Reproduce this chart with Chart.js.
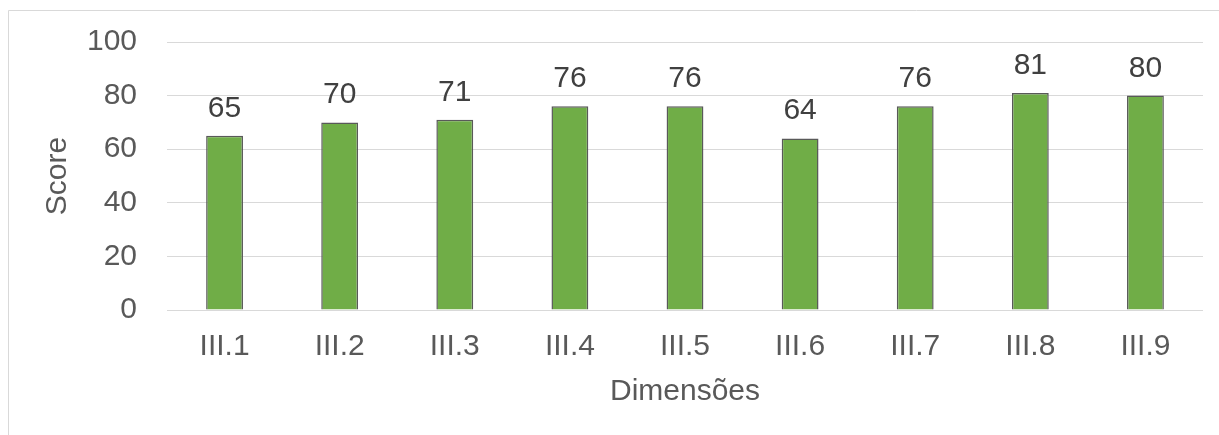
<!DOCTYPE html>
<html>
<head>
<meta charset="utf-8">
<script src="https://cdn.jsdelivr.net/npm/chart.js@4"></script>
<style>
html,body{margin:0;padding:0;background:#fff;}
#wrap{position:relative;width:1219px;height:435px;}
</style>
</head>
<body>
<div id="wrap"><canvas id="c" width="1219" height="435"></canvas></div>
<script>
const categories = ["III.1","III.2","III.3","III.4","III.5","III.6","III.7","III.8","III.9"];
const scores = [65,70,71,76,76,64,76,81,80];
const yTicks = [0,20,40,60,80,100];
const xTitle = "Dimensões";
const yTitle = "Score";

const FONT = "'Liberation Sans', Arial, sans-serif";

const frame = {
  id: 'frame',
  beforeDraw(chart) {
    const ctx = chart.ctx;
    ctx.save();
    ctx.fillStyle = '#ffffff';
    ctx.fillRect(0, 0, chart.width, chart.height);
    ctx.strokeStyle = '#d9d9d9';
    ctx.lineWidth = 1;
    ctx.beginPath();
    ctx.moveTo(8.5, chart.height);
    ctx.lineTo(8.5, 10.5);
    ctx.lineTo(chart.width, 10.5);
    ctx.stroke();
    ctx.restore();
  }
};

const dataLabels = {
  id: 'dataLabels',
  afterDatasetsDraw(chart) {
    const ctx = chart.ctx;
    ctx.save();
    ctx.fillStyle = '#404040';
    ctx.font = '30px ' + FONT;
    ctx.textAlign = 'center';
    ctx.textBaseline = 'alphabetic';
    const meta = chart.getDatasetMeta(0);
    meta.data.forEach((bar, i) => {
      ctx.fillText(String(chart.data.datasets[0].data[i]), bar.x, bar.y - 19);
    });
    ctx.restore();
  }
};

new Chart(document.getElementById('c'), {
  type: 'bar',
  data: {
    labels: categories,
    datasets: [{
      data: scores,
      backgroundColor: '#70AD47',
      borderColor: '#595959',
      borderWidth: 1.5,
      barPercentage: 0.32,
      categoryPercentage: 1
    }]
  },
  options: {
    responsive: false,
    animation: false,
    devicePixelRatio: 1,
    layout: { padding: { left: 0, right: 16, top: 42, bottom: 0 } },
    plugins: { legend: { display: false }, tooltip: { enabled: false } },
    scales: {
      x: {
        grid: { display: false, drawTicks: false },
        border: { display: false },
        ticks: { color: '#595959', font: { family: FONT, size: 30 }, padding: 19, maxRotation: 0 },
        title: { display: true, text: xTitle, color: '#595959', font: { family: FONT, size: 30 }, padding: { top: 0, bottom: 25 } },
        afterFit(scale) { scale.height = 125; scale.paddingLeft = 0; scale.paddingRight = 0; }
      },
      y: {
        min: 0, max: 100,
        afterBuildTicks(scale) { scale.ticks = yTicks.map(v => ({ value: v })); },
        grid: { color: '#d9d9d9', lineWidth: 1, drawTicks: false },
        border: { display: false },
        ticks: { color: '#595959', font: { family: FONT, size: 30 }, padding: 30 },
        title: { display: true, text: yTitle, color: '#595959', font: { family: FONT, size: 30 }, padding: { top: 40, bottom: 0 } },
        afterFit(scale) { scale.width = 167; scale.paddingTop = 0; scale.paddingBottom = 0; }
      }
    }
  },
  plugins: [frame, dataLabels]
});
</script>
</body>
</html>
